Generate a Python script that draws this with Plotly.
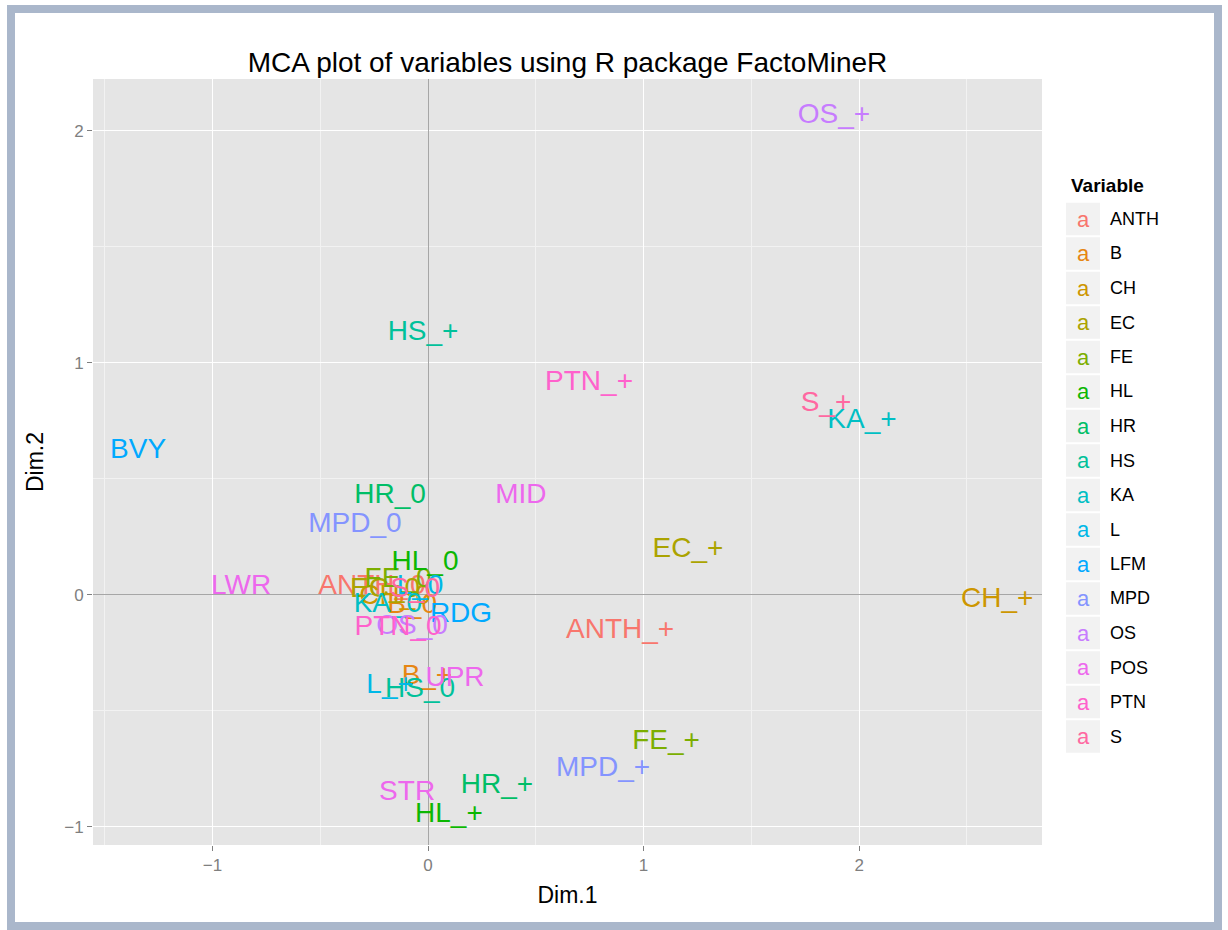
import math
import plotly.graph_objects as go

# MCA category coordinates (Dim.1, Dim.2) and the variable each category belongs to
labels = ["ANTH_0", "ANTH_+", "B_0", "B_+", "CH_0", "CH_+", "EC_0", "EC_+",
          "FE_0", "FE_+", "HL_0", "HL_+", "HR_0", "HR_+", "HS_0", "HS_+",
          "KA_0", "KA_+", "L_0", "L_+", "BVY", "RDG", "MPD_0", "MPD_+",
          "OS_0", "OS_+", "LWR", "MID", "UPR", "STR", "PTN_0", "PTN_+",
          "S_0", "S_+"]
variable = ["ANTH", "ANTH", "B", "B", "CH", "CH", "EC", "EC",
            "FE", "FE", "HL", "HL", "HR", "HR", "HS", "HS",
            "KA", "KA", "L", "L", "LFM", "LFM", "MPD", "MPD",
            "OS", "OS", "POS", "POS", "POS", "POS", "PTN", "PTN",
            "S", "S"]
dim1 = [-0.26, 0.891, -0.074, -0.005, -0.153, 2.64, -0.199, 1.206,
        -0.139, 1.104, -0.014, 0.097, -0.176, 0.320, -0.037, -0.023,
        -0.186, 2.013, -0.037, -0.176, -1.345, 0.153, -0.339, 0.812,
        -0.074, 1.883, -0.867, 0.431, 0.125, -0.097, -0.139, 0.747,
        -0.060, 1.846]
dim2 = [0.034, -0.155, -0.047, -0.353, -0.009, -0.022, 0.022, 0.194,
        0.065, -0.634, 0.138, -0.948, 0.427, -0.823, -0.409, 1.129,
        -0.043, 0.750, 0.034, -0.392, 0.621, -0.086, 0.302, -0.750,
        -0.138, 2.065, 0.034, 0.427, -0.362, -0.853, -0.142, 0.914,
        0.022, 0.823]

levels = ["ANTH", "B", "CH", "EC", "FE", "HL", "HR", "HS", "KA", "L",
          "LFM", "MPD", "OS", "POS", "PTN", "S"]

FONT = "Liberation Sans, Arial"


def hcl_to_hex(h, c=100.0, l=65.0):
    """Polar LUV -> sRGB hex, as R's hcl() does."""
    xn, yn, zn = 95.047, 100.0, 108.883
    hr = math.radians(h)
    U, V = c * math.cos(hr), c * math.sin(hr)
    Y = yn * ((l + 16) / 116) ** 3 if l > 8 else yn * l / 903.3
    den = xn + 15 * yn + 3 * zn
    un, vn = 4 * xn / den, 9 * yn / den
    u = U / (13 * l) + un
    v = V / (13 * l) + vn
    X = 9.0 * Y * u / (4 * v)
    Z = -X / 3 - 5 * Y + 3 * Y / v
    X, Y, Z = X / 100, Y / 100, Z / 100
    r = 3.240479 * X - 1.537150 * Y - 0.498535 * Z
    g = -0.969256 * X + 1.875992 * Y + 0.041556 * Z
    b = 0.055648 * X - 0.204043 * Y + 1.057311 * Z

    def gam(t):
        t = 1.055 * t ** (1 / 2.4) - 0.055 if t > 0.00304 else 12.92 * t
        return max(0, min(255, round(255 * t)))

    return "#%02X%02X%02X" % (gam(r), gam(g), gam(b))


n = len(levels)
palette = {lv: hcl_to_hex(15 + 360 * i / n) for i, lv in enumerate(levels)}

W, H = 1228, 930
ML, MR, MT, MB = 93, 186, 79, 85
PW, PH = W - ML - MR, H - MT - MB


def px(xp):
    return (xp - ML) / PW


def py(yp):
    return (H - MB - yp) / PH


fig = go.Figure()
for lv in levels:
    idx = [i for i, v in enumerate(variable) if v == lv]
    fig.add_trace(go.Scatter(
        x=[dim1[i] for i in idx], y=[dim2[i] for i in idx],
        text=[labels[i] for i in idx], mode="text",
        textfont=dict(family=FONT, size=28, color=palette[lv]),
        textposition="middle center", name=lv, showlegend=False,
        hoverinfo="x+y+text"))

axis_common = dict(
    showgrid=True, gridcolor="#FFFFFF", gridwidth=1.3,
    minor=dict(dtick=0.5, showgrid=True, gridcolor="#F2F2F2", gridwidth=0.8),
    zeroline=True, zerolinecolor="#A6A6A6", zerolinewidth=1,
    ticks="outside", ticklen=5, tickcolor="#7F7F7F", tickwidth=1,
    tickfont=dict(family=FONT, size=17, color="#7F7F7F"),
    showline=False, dtick=1, tickformat="d", separators=None,
)
axis_common.pop("separators")

fig.update_layout(
    width=W, height=H,
    margin=dict(l=ML, r=MR, t=MT, b=MB),
    paper_bgcolor="#FFFFFF", plot_bgcolor="#E5E5E5",
    showlegend=False,
    separators=".,",
    title=dict(text="MCA plot of variables using R package FactoMineR",
               x=px(ML + PW / 2), xanchor="center", xref="paper",
               y=1 - 62 / H, yanchor="middle",
               font=dict(family=FONT, size=28, color="#000000")),
    xaxis=dict(range=[-1.554, 2.848], tick0=0,
               title=dict(text="Dim.1", standoff=12,
                          font=dict(family=FONT, size=23, color="#000000")),
               **axis_common),
    yaxis=dict(range=[-1.078, 2.224], tick0=0,
               title=dict(text="Dim.2", standoff=14,
                          font=dict(family=FONT, size=23, color="#000000")),
               **axis_common),
)

# legend: title, grey key boxes holding a coloured "a", and variable names
shapes = []
annotations = [dict(text="<b>Variable</b>", x=px(1069), y=py(185), xref="paper", yref="paper",
                    xanchor="left", yanchor="middle", showarrow=False,
                    font=dict(family=FONT, size=19, color="#000000"))]
row_h = 34.5
for i, lv in enumerate(levels):
    cy = 219 + i * row_h
    shapes.append(dict(type="rect", xref="paper", yref="paper",
                       x0=px(1066), x1=px(1100), y0=py(cy - row_h / 2 + 1), y1=py(cy + row_h / 2 - 1),
                       fillcolor="#F2F2F2", line=dict(width=0), layer="below"))
    annotations.append(dict(text="a", x=px(1083), y=py(cy), xref="paper", yref="paper",
                            xanchor="center", yanchor="middle", showarrow=False,
                            font=dict(family=FONT, size=22, color=palette[lv])))
    annotations.append(dict(text=lv, x=px(1108), y=py(cy), xref="paper", yref="paper",
                            xanchor="left", yanchor="middle", showarrow=False,
                            font=dict(family=FONT, size=18, color="#000000")))

# frame around the whole figure
shapes.append(dict(type="rect", xref="paper", yref="paper",
                   x0=px(11), x1=px(1218), y0=py(9), y1=py(926),
                   line=dict(color="#AAB7CB", width=8), fillcolor="rgba(0,0,0,0)", layer="above"))

fig.update_layout(shapes=shapes, annotations=annotations)
fig.write_html("out.html")
